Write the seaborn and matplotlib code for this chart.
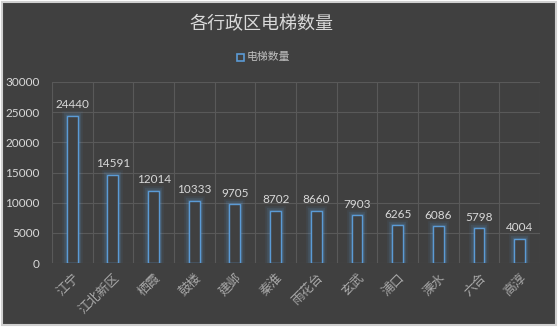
import matplotlib
matplotlib.use("Agg")
import matplotlib.pyplot as plt
import matplotlib.patheffects as pe
from matplotlib.patches import Rectangle
import seaborn as sns
import pandas as pd

districts = ["江宁", "江北新区", "栖霞", "鼓楼", "建邺", "秦淮", "雨花台", "玄武", "浦口", "溧水", "六合", "高淳"]
elevators = [24440, 14591, 12014, 10333, 9705, 8702, 8660, 7903, 6265, 6086, 5798, 4004]
yticks = [0, 5000, 10000, 15000, 20000, 25000, 30000]

df = pd.DataFrame({"区": districts, "电梯数量": elevators})

sns.set_style("dark")
plt.rcParams["font.family"] = ["Noto Sans CJK SC", "DejaVu Sans"]

BG = "#404040"
BLUE = "#5b9bd5"
TXT = "#d9d9d9"
GRID = "#595959"
NUMFONT = ["Lato", "DejaVu Sans"]

fig = plt.figure(figsize=(5.59, 3.28), dpi=100, facecolor="white")
fig.patches.append(Rectangle((0.004, 0.008), 0.991, 0.985, transform=fig.transFigure,
                             facecolor=BG, edgecolor="#d0d0d0", linewidth=1.5, zorder=-10))

ax = fig.add_axes([0.093, 0.198, 0.873, 0.552])
ax.set_facecolor(BG)

sns.barplot(data=df, x="区", y="电梯数量", ax=ax, width=0.27,
            facecolor=BG, edgecolor=BLUE, linewidth=1.0, zorder=3)

glow = [pe.Stroke(linewidth=7, foreground=BLUE, alpha=0.07),
        pe.Stroke(linewidth=4.5, foreground=BLUE, alpha=0.12),
        pe.Stroke(linewidth=2.5, foreground=BLUE, alpha=0.2),
        pe.Normal()]
for p in ax.patches:
    p.set_path_effects(glow)

for c in ax.containers:
    ax.bar_label(c, labels=[str(v) for v in elevators], padding=4,
                 color=TXT, fontsize=8.5, family=NUMFONT)

ax.set_ylim(0, 30000)
ax.set_xlim(-0.5, len(districts) - 0.5)
ax.set_yticks(yticks)
ax.set_yticklabels([str(t) for t in yticks], color=TXT, fontsize=8.5, family=NUMFONT)

# category separators as vertical grid
for i in range(len(districts) + 1):
    ax.axvline(i - 0.5, color=GRID, linewidth=0.8, zorder=1)
for t in yticks:
    ax.axhline(t, color=GRID, linewidth=0.8, zorder=1)
ax.grid(False)

ax.set_xticks(range(len(districts)))
ax.set_xticklabels(districts, rotation=45, ha="right", rotation_mode="anchor",
                   color="#a8a8a8", fontsize=9.2, fontweight="light")
ax.tick_params(axis="y", length=0, pad=9)
ax.tick_params(axis="x", length=0, pad=6)
ax.set_xlabel("")
ax.set_ylabel("")
for s in ax.spines.values():
    s.set_visible(False)

fig.text(0.467, 0.925, "各行政区电梯数量", ha="center", va="center", color=TXT, fontsize=13)

# legend
fig.patches.append(Rectangle((0.4245, 0.815), 0.0115, 0.02, transform=fig.transFigure,
                             facecolor=BG, edgecolor=BLUE, linewidth=1.2))
fig.text(0.441, 0.827, "电梯数量", ha="left", va="center", color="#bfbfbf", fontsize=7.8)

fig.savefig("out.png", dpi=100, facecolor="white")
